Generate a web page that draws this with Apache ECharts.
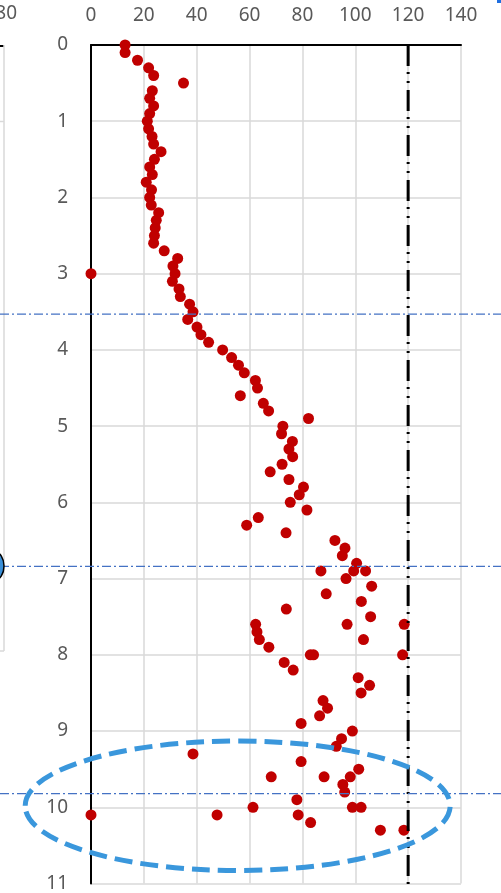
<!DOCTYPE html>
<html>
<head>
<meta charset="utf-8">
<script src="https://cdn.jsdelivr.net/npm/echarts@6/dist/echarts.min.js"></script>
<style>
    html, body { margin: 0; padding: 0; background: #fff; overflow: hidden; }
    #chart { width: 501px; height: 893px; }
</style>
</head>
<body>
<div id="chart"></div>
<script>
// depth (y, inverted) and measured value (x) for every red dot
const depths = [
    0.0, 0.1, 0.2, 0.3, 0.4, 0.5, 0.6, 0.7, 0.8, 0.9,
    1.0, 1.1, 1.2, 1.3, 1.4, 1.5, 1.6, 1.7, 1.8, 1.9,
    2.0, 2.1, 2.2, 2.3, 2.4, 2.5, 2.6, 2.7, 2.8, 2.9,
    3.0, 3.0, 3.1, 3.2, 3.3, 3.4, 3.5, 3.6, 3.7, 3.8, 3.9,
    4.0, 4.1, 4.2, 4.3, 4.4, 4.5, 4.6, 4.7, 4.8, 4.9,
    5.0, 5.1, 5.2, 5.3, 5.4, 5.5, 5.6, 5.7, 5.8, 5.9,
    6.0, 6.1, 6.2, 6.3, 6.4, 6.5, 6.6, 6.7, 6.8, 6.9, 6.9, 6.9,
    7.0, 7.1, 7.2, 7.3, 7.4, 7.5, 7.6, 7.6, 7.6, 7.7, 7.8, 7.8, 7.9,
    8.0, 8.0, 8.0, 8.1, 8.2, 8.3, 8.4, 8.5, 8.6, 8.7, 8.8, 8.9,
    9.0, 9.1, 9.2, 9.3, 9.4, 9.5, 9.6, 9.6, 9.6, 9.7, 9.8, 9.9,
    10.0, 10.0, 10.0, 10.1, 10.1, 10.1, 10.2, 10.3, 10.3,
];
const values = [
    12.9, 12.9, 17.6, 21.8, 23.7, 35.0, 23.2, 22.2, 23.7, 22.2,
    21.3, 21.8, 23.1, 23.7, 26.5, 24.0, 22.2, 23.2, 20.9, 22.9,
    22.2, 22.8, 25.6, 24.7, 24.3, 24.0, 23.7, 27.7, 32.8, 31.0,
    31.8, 0, 30.8, 33.3, 33.8, 37.3, 38.6, 36.6, 40.1, 41.6, 44.5,
    49.8, 53.2, 55.8, 58.0, 62.2, 63.0, 56.5, 65.2, 67.2, 82.3,
    72.6, 72.1, 76.2, 74.9, 76.3, 72.3, 67.8, 74.9, 80.4, 78.8,
    75.4, 81.7, 63.3, 58.9, 73.8, 92.3, 96.1, 95.1, 100.5, 87.0, 99.4, 103.9,
    96.5, 106.2, 89.0, 102.3, 73.9, 105.8, 62.3, 96.9, 118.5, 62.8, 63.7, 103.1, 67.3,
    83.0, 84.2, 117.9, 73.1, 76.5, 101.1, 105.4, 102.2, 87.8, 89.5, 86.5, 79.5,
    98.9, 94.8, 92.8, 38.6, 79.5, 101.3, 68.2, 88.2, 98.1, 95.3, 96.0, 77.9,
    61.3, 98.9, 102.2, 0, 47.7, 78.4, 83.1, 109.5, 118.4,
];

// reference lines
const limitValue = 120;
const layerDepths = [3.53, 6.84, 9.82];
// dashed ellipse around the lower zone, in data units
const zoneX = [-24.9, 135.9];
const zoneY = [9.13, 10.83];

const labelStyle = {
    color: "#595959",
    fontSize: 19,
    fontFamily: "Noto Sans",
};

const option = {
    animation: false,
    grid: {
        left: 91,
        top: 45,
        width: 370,
        height: 839,
    },
    xAxis: {
        type: "value",
        position: "top",
        min: 0,
        max: 140,
        interval: 20,
        axisLine: { show: true, onZero: false, lineStyle: { color: "#000", width: 2 } },
        axisTick: { show: false },
        axisLabel: { ...labelStyle, margin: 20 },
        splitLine: { lineStyle: { color: "#d9d9d9", width: 1.5 } },
    },
    yAxis: {
        type: "value",
        inverse: true,
        min: 0,
        max: 11,
        interval: 1,
        axisLine: { show: true, onZero: false, lineStyle: { color: "#000", width: 2 } },
        axisTick: { show: false },
        axisLabel: { ...labelStyle, margin: 23 },
        splitLine: { lineStyle: { color: "#d9d9d9", width: 1.5 } },
    },
    series: [
        {
            type: "scatter",
            symbol: "circle",
            symbolSize: 11,
            itemStyle: { color: "#c00000", opacity: 1 },
            data: values.map((v, i) => [v, depths[i]]),
            z: 3,
        },
    ],
};

const chart = echarts.init(document.getElementById("chart"));
chart.setOption(option);

// overlays placed through the chart's own scales
const px = (x, y) => chart.convertToPixel({ gridIndex: 0 }, [x, y]);
const graphics = [];

const limitTop = px(limitValue, 0);
const limitBottom = px(limitValue, 11);
graphics.push({
    type: "line",
    z: 4,
    shape: { x1: limitTop[0], y1: limitTop[1], x2: limitBottom[0], y2: limitBottom[1] + 6 },
    style: { stroke: "#000", lineWidth: 3, lineDash: [21, 6, 2, 7, 2, 7] },
});

layerDepths.forEach((d) => {
    const p = px(0, d);
    graphics.push({
        type: "line",
        z: 5,
        shape: { x1: 0, y1: p[1], x2: 501, y2: p[1] },
        style: { stroke: "#4472c4", lineWidth: 1.3, lineDash: [9, 3, 2, 3] },
    });
});

const zA = px(zoneX[0], zoneY[0]);
const zB = px(zoneX[1], zoneY[1]);
graphics.push({
    type: "ellipse",
    z: 6,
    shape: {
        cx: (zA[0] + zB[0]) / 2,
        cy: (zA[1] + zB[1]) / 2,
        rx: (zB[0] - zA[0]) / 2,
        ry: (zB[1] - zA[1]) / 2,
    },
    style: { fill: null, stroke: "#3a97dc", lineWidth: 5, lineDash: [18, 8] },
});

// fragment of the neighbouring chart cut off at the left edge
graphics.push(
    { type: "text", z: 2, style: { text: "80", x: 17, y: 14, align: "right", verticalAlign: "middle", fill: "#595959", font: "19px 'Noto Sans'" } },
    { type: "line", z: 2, shape: { x1: 0, y1: 46, x2: 4, y2: 46 }, style: { stroke: "#000", lineWidth: 2 } },
    { type: "line", z: 2, shape: { x1: 4, y1: 45, x2: 4, y2: 651 }, style: { stroke: "#d9d9d9", lineWidth: 1.5 } },
    { type: "line", z: 2, shape: { x1: 0, y1: 121.5, x2: 4, y2: 121.5 }, style: { stroke: "#d9d9d9", lineWidth: 1.5 } },
    { type: "line", z: 2, shape: { x1: 0, y1: 651, x2: 4, y2: 651 }, style: { stroke: "#d9d9d9", lineWidth: 1.5 } },
    { type: "ellipse", z: 7, shape: { cx: -5, cy: 566, rx: 9, ry: 14 }, style: { fill: "#3a8fd8", stroke: "#000", lineWidth: 1.5 } },
    { type: "rect", z: 2, shape: { x: 497, y: 0, width: 4, height: 3 }, style: { fill: "#1f6fe0" } }
);

chart.setOption({ graphic: graphics });
</script>
</body>
</html>
